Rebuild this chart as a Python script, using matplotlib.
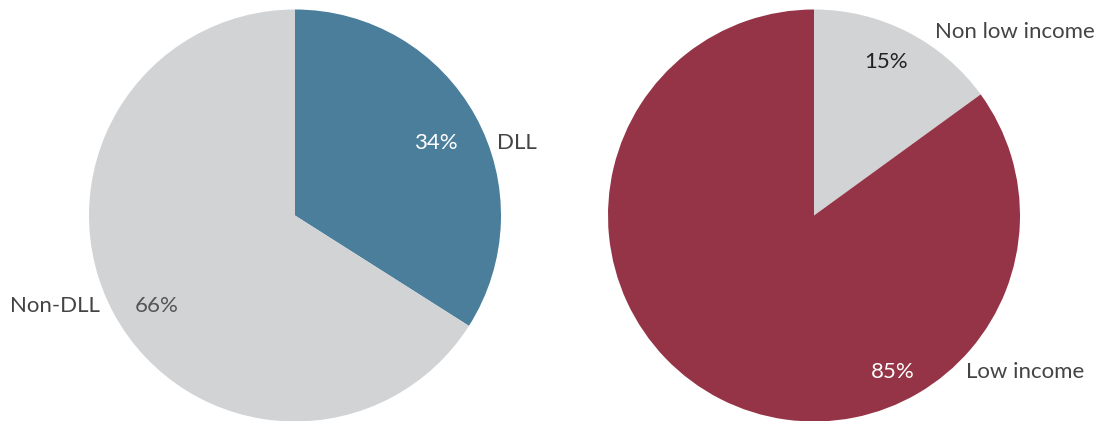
import matplotlib.pyplot as plt

plt.rcParams['font.family'] = ['Lato', 'DejaVu Sans']

# left pie: dual language learners
dll_labels = ["DLL", "Non-DLL"]
dll_values = [34, 66]
dll_colors = ["#4a7e9b", "#d1d3d5"]

# right pie: income
inc_labels = ["Non low income", "Low income"]
inc_values = [15, 85]
inc_colors = ["#d1d3d5", "#953446"]

W, H = 1099, 421
fig = plt.figure(figsize=(W / 100, H / 100), dpi=100)

R = 206
cy = 215.5
FS = 16


def pie_axes(cx):
    return fig.add_axes([(cx - R) / W, (H - cy - R) / H, 2 * R / W, 2 * R / H])


ax1 = pie_axes(295)
ax1.pie(dll_values, colors=dll_colors, startangle=90, counterclock=False,
        wedgeprops=dict(linewidth=0))
ax1.set_xlim(-1, 1)
ax1.set_ylim(-1, 1)
ax1.set_aspect('equal')
ax1.axis('off')

# percentage and category labels
ax1.text(0.684, 0.35, f"{dll_values[0]}%", color="white", fontsize=FS,
         ha='center', va='center')
ax1.text(0.98, 0.35, dll_labels[0], color="#444444", fontsize=FS,
         ha='left', va='center', clip_on=False)
ax1.text(-0.67, -0.44, f"{dll_values[1]}%", color="#555555", fontsize=FS,
         ha='center', va='center')
ax1.text(-0.945, -0.44, dll_labels[1], color="#444444", fontsize=FS,
         ha='right', va='center', clip_on=False)

ax2 = pie_axes(814)
ax2.pie(inc_values, colors=inc_colors, startangle=90, counterclock=False,
        wedgeprops=dict(linewidth=0))
ax2.set_xlim(-1, 1)
ax2.set_ylim(-1, 1)
ax2.set_aspect('equal')
ax2.axis('off')

ax2.text(0.35, 0.743, f"{inc_values[0]}%", color="#222222", fontsize=FS,
         ha='center', va='center')
ax2.text(0.587, 0.893, inc_labels[0], color="#444444", fontsize=FS,
         ha='left', va='center', clip_on=False)
ax2.text(0.383, -0.762, f"{inc_values[1]}%", color="white", fontsize=FS,
         ha='center', va='center')
ax2.text(0.738, -0.762, inc_labels[1], color="#444444", fontsize=FS,
         ha='left', va='center', clip_on=False)

plt.savefig("out.png", dpi=100)
